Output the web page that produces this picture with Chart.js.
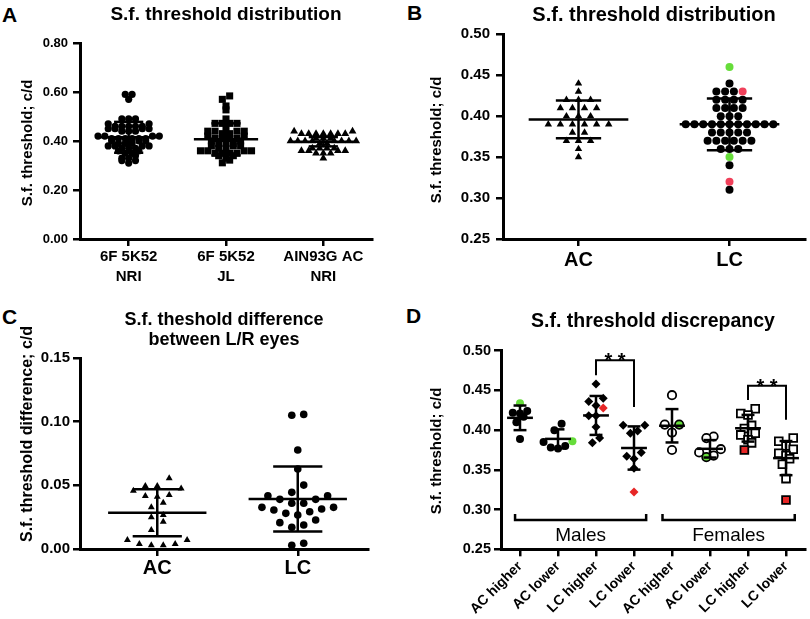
<!DOCTYPE html>
<html>
<head>
<meta charset="utf-8">
<script src="https://cdn.jsdelivr.net/npm/chart.js@4.4.0/dist/chart.umd.min.js"></script>
<style>
  body { margin: 0; background: #fff; width: 810px; height: 619px; position: relative; overflow: hidden;
         font-family: "Liberation Sans", Arial, sans-serif; }
  canvas { position: absolute; }
  .letter { position: absolute; font-weight: bold; font-size: 21px; line-height: 1; }
</style>
</head>
<body>
<div class="letter" style="left:2px;top:4px">A</div>
<div class="letter" style="left:407px;top:2px">B</div>
<div class="letter" style="left:2px;top:306px">C</div>
<div class="letter" style="left:406px;top:305px">D</div>

<canvas id="chartA" width="405" height="300" style="left:0;top:0"></canvas>
<canvas id="chartB" width="405" height="300" style="left:405px;top:0"></canvas>
<canvas id="chartC" width="405" height="305" style="left:0;top:305px"></canvas>
<canvas id="chartD" width="405" height="314" style="left:405px;top:305px"></canvas>

<script>
const FONT = '"Liberation Sans", Arial, sans-serif';
Chart.defaults.font.family = FONT;
Chart.defaults.color = "#000";
Chart.defaults.animation = false;

const GREEN = "#66DD3A";
const RED_B = "#F0405A";
const RED_D = "#E62626";

// ---- Panel A: s.f. threshold distribution by colony / diet ----
const aCategories = [["6F 5K52", "NRI"], ["6F 5K52", "JL"], ["AIN93G AC", "NRI"]];
const aNri = [0.59, 0.57, 0.59, 0.49, 0.49, 0.49,
  0.47, 0.47, 0.46, 0.46, 0.46, 0.45, 0.45, 0.44, 0.44, 0.44, 0.45, 0.45, 0.46, 0.46,
  0.42, 0.42, 0.41, 0.41, 0.41, 0.41, 0.40, 0.40, 0.40, 0.41, 0.41, 0.42, 0.42,
  0.39, 0.39, 0.38, 0.38, 0.37, 0.37, 0.37, 0.38, 0.38, 0.39,
  0.36, 0.36, 0.35, 0.35, 0.34, 0.33, 0.32, 0.31, 0.32, 0.33];
const aJl = [0.584, 0.570, 0.543, 0.527, 0.490, 0.472, 0.472, 0.472, 0.472,
  0.45, 0.44, 0.44, 0.44, 0.44, 0.43, 0.43,
  0.42, 0.42, 0.41, 0.41, 0.41, 0.41, 0.40, 0.40,
  0.39, 0.39, 0.39, 0.38, 0.38, 0.38,
  0.37, 0.37, 0.36, 0.36, 0.36, 0.36, 0.35, 0.35, 0.35, 0.35,
  0.34, 0.34, 0.33, 0.322, 0.311];
const aAc = [0.44, 0.44, 0.43, 0.43, 0.43, 0.43, 0.43, 0.43, 0.43,
  0.41, 0.41, 0.41, 0.40, 0.40, 0.40, 0.40, 0.40, 0.40, 0.40, 0.40, 0.39, 0.39,
  0.37, 0.37, 0.37, 0.37, 0.36, 0.36, 0.36, 0.36, 0.35, 0.35, 0.35, 0.33];
const aMeans = [0.415, 0.407, 0.397];
const aSds = [0.063, 0.065, 0.019];

// ---- Panel B: AC vs LC ----
const bCategories = ["AC", "LC"];
const bAc = [0.44, 0.43, 0.42, 0.42, 0.42, 0.41, 0.41, 0.41, 0.41, 0.40, 0.40, 0.40,
  0.39, 0.39, 0.39, 0.39, 0.39, 0.39, 0.38, 0.38, 0.37, 0.37, 0.37, 0.36, 0.35];
const bLc = [0.44, 0.43, 0.43, 0.43, 0.42, 0.42, 0.42, 0.42, 0.41, 0.41, 0.41, 0.41,
  0.40, 0.40, 0.40, 0.39, 0.39, 0.39, 0.39, 0.39, 0.39, 0.39, 0.39, 0.39, 0.39, 0.39,
  0.38, 0.38, 0.38, 0.38, 0.38, 0.37, 0.37, 0.37, 0.37, 0.37, 0.37,
  0.36, 0.36, 0.36, 0.34, 0.31];
const bLcGreen = [0.46, 0.35];
const bLcRed = [0.43, 0.32];
const bMeans = [0.396, 0.390];
const bSds = [0.023, 0.0315];

// ---- Panel C: L/R eye difference ----
const cCategories = ["AC", "LC"];
const cAc = [0.0555, 0.0494, 0.0494, 0.0458, 0.0476, 0.0416, 0.0424, 0.041, 0.0363, 0.0327,
  0.0267, 0.0249, 0.0214, 0.015, 0.007, 0.004, 0.003, 0.003, 0.004, 0.007];
const cLc = [0.1057, 0.105, 0.0777, 0.0628, 0.0502, 0.0418, 0.039, 0.0418, 0.0445, 0.039,
  0.0359, 0.0327, 0.0314, 0.0293, 0.0267, 0.028, 0.0306, 0.0327, 0.0359,
  0.0228, 0.0188, 0.017, 0.0207, 0.003, 0.0045];
const cMeans = [0.0285, 0.0392];
const cSds = [0.0185, 0.0255];

// ---- Panel D: discrepancy by sex ----
const dCategories = ["AC higher", "AC lower", "LC higher", "LC lower",
  "AC higher", "AC lower", "LC higher", "LC lower"];
const dMaleAcHigher = [0.424, 0.422, 0.421, 0.417, 0.410, 0.389];
const dMaleAcHigherGreen = [0.434];
const dMaleAcLower = [0.408, 0.400, 0.385, 0.380, 0.378, 0.377];
const dMaleAcLowerGreen = [0.386];
const dMaleLcHigher = [0.458, 0.440, 0.436, 0.431, 0.418, 0.418, 0.404, 0.390, 0.384];
const dMaleLcHigherRed = [0.428];
const dMaleLcLower = [0.406, 0.406, 0.399, 0.396, 0.372, 0.367, 0.364, 0.352];
const dMaleLcLowerRed = [0.322];
const dFemAcHigher = [0.444, 0.407, 0.397, 0.375];
const dFemAcHigherGreen = [0.407];
const dFemAcLower = [0.392, 0.390, 0.376, 0.372, 0.368];
const dFemAcLowerGreen = [0.366];
const dFemLcHigher = [0.427, 0.421, 0.419, 0.406, 0.402, 0.396, 0.394, 0.388, 0.384];
const dFemLcHigherRed = [0.375];
const dFemLcLower = [0.390, 0.386, 0.380, 0.376, 0.371, 0.368, 0.364, 0.357, 0.339];
const dFemLcLowerRed = [0.312];
const dMeans = [0.4155, 0.389, 0.4185, 0.3775, 0.4055, 0.3765, 0.4024, 0.3648];
const dSds = [0.0155, 0.012, 0.0245, 0.0272, 0.021, 0.011, 0.0168, 0.0215];
const dSexes = ["Males", "Females"];

// scatter-dot-plot layout: values within `tol` share a row, spread centre-out
function spread(values, tol, step) {
  const order = values.map((v, i) => i).sort((a, b) => values[a] - values[b]);
  const off = values.map(() => 0);
  let row = [];
  const flush = () => {
    const n = row.length;
    const slots = row.map((_, k) => (k - (n - 1) / 2) * step)
      .sort((p, q) => Math.abs(p) - Math.abs(q) || p - q);
    row.forEach((idx, k) => { off[idx] = slots[k]; });
    row = [];
  };
  order.forEach(i => {
    if (row.length && values[i] - values[row[0]] > tol + 1e-9) flush();
    row.push(i);
  });
  flush();
  return off;
}

function group(cat, parts, tol, step) {
  const vals = [], fills = [];
  parts.forEach(([arr, fill]) => arr.forEach(v => { vals.push(v); fills.push(fill); }));
  const off = spread(vals, tol, step);
  return { data: vals.map((v, i) => ({ x: cat + off[i], y: v })), fills };
}

function dots(g, style, radius, border, borderWidth) {
  return {
    type: "scatter",
    data: g.data,
    pointStyle: style,
    pointRadius: radius,
    pointHoverRadius: radius,
    pointBackgroundColor: g.fills,
    pointBorderColor: border || g.fills,
    pointBorderWidth: borderWidth || 0,
  };
}

function yScale(min, max, step, tickSize, pad, width) {
  return {
    type: "linear", min, max,
    ticks: { stepSize: step, padding: pad, font: { size: tickSize, weight: "bold" },
             callback: v => v.toFixed(2) },
    grid: { drawOnChartArea: false, tickLength: 7, lineWidth: 2.5, color: "#000" },
    border: { color: "#000", width: 3 },
    afterFit: s => { s.width = width; },
  };
}

function xScale(labels, min, max, tickSize, lineHeight, pad, height, rotation) {
  return {
    type: "linear", min, max,
    afterBuildTicks: s => { s.ticks = labels.map((_, i) => ({ value: i + 1 })); },
    ticks: { padding: pad, autoSkip: false, maxRotation: rotation, minRotation: rotation,
             font: { size: tickSize, weight: "bold", lineHeight },
             callback: v => labels[Math.round(v) - 1] },
    grid: { drawOnChartArea: false, tickLength: 7, lineWidth: 2.5, color: "#000" },
    border: { color: "#000", width: 3 },
    afterFit: s => { s.height = height; },
  };
}

function titleOpts(text, size, lineHeight, top, bottom) {
  return { display: true, text, fullSize: false, color: "#000",
           font: { size, weight: "bold", lineHeight }, padding: { top, bottom } };
}

// mean +/- SD bars
function errorBars(means, sds, meanHalf, capHalf, width) {
  return {
    id: "errorBars",
    afterDatasetsDraw(chart) {
      const { ctx, scales: { x, y } } = chart;
      const seg = (x0, y0, x1, y1) => {
        ctx.beginPath();
        ctx.moveTo(x.getPixelForValue(x0), y.getPixelForValue(y0));
        ctx.lineTo(x.getPixelForValue(x1), y.getPixelForValue(y1));
        ctx.stroke();
      };
      ctx.save();
      ctx.strokeStyle = "#000";
      ctx.lineWidth = width;
      means.forEach((m, i) => {
        const c = i + 1, sd = sds[i];
        seg(c - meanHalf, m, c + meanHalf, m);
        seg(c - capHalf, m + sd, c + capHalf, m + sd);
        seg(c - capHalf, m - sd, c + capHalf, m - sd);
        seg(c, m - sd, c, m + sd);
      });
      ctx.restore();
    },
  };
}

function sideTitle(text, size, x, y) {
  return {
    id: "sideTitle",
    afterDraw(chart) {
      const ctx = chart.ctx;
      ctx.save();
      ctx.translate(x, y);
      ctx.rotate(-Math.PI / 2);
      ctx.font = `bold ${size}px ${FONT}`;
      ctx.fillStyle = "#000";
      ctx.textAlign = "center";
      ctx.textBaseline = "middle";
      ctx.fillText(text, 0, 0);
      ctx.restore();
    },
  };
}

function baseOptions(title, padRight, xs, ys) {
  return {
    responsive: false,
    layout: { padding: { left: 0, right: padRight, top: 0, bottom: 0 }, autoPadding: false },
    plugins: { legend: { display: false }, tooltip: { enabled: false }, title },
    scales: { x: xs, y: ys },
  };
}

// --- A ---
new Chart(document.getElementById("chartA"), {
  type: "scatter",
  data: { datasets: [
    dots(group(1, [[aNri, "#000"]], 0.015, 0.07), "circle", 3.6),
    dots(group(2, [[aJl, "#000"]], 0.015, 0.075), "rect", 5),
    dots(group(3, [[aAc, "#000"]], 0.015, 0.075), "triangle", 4.5),
  ] },
  options: baseOptions(
    titleOpts("S.f. threshold distribution", 19, 1.2, 3.6, 16.6), 33,
    xScale(aCategories, 0.5, 3.5, 15, 1.33, 1, 61, 0),
    yScale(0, 0.8, 0.2, 13, 5, 80)),
  plugins: [errorBars(aMeans, aSds, 0.33, 0.15, 2.5), sideTitle("S.f. threshold; c/d", 15, 28, 143)],
});

// --- B ---
new Chart(document.getElementById("chartB"), {
  type: "scatter",
  data: { datasets: [
    dots(group(1, [[bAc, "#000"]], 0.005, 0.08), "triangle", 4.3),
    dots(group(2, [[bLc, "#000"], [bLcGreen, GREEN], [bLcRed, RED_B]], 0.005, 0.058), "circle", 4),
  ] },
  options: baseOptions(
    titleOpts("S.f. threshold distribution", 20, 1.2, 3, 7.3), 5,
    xScale(bCategories, 0.5, 2.5, 20, 1.2, 2, 61, 0),
    yScale(0.25, 0.5, 0.05, 15, 6, 98)),
  plugins: [errorBars(bMeans, bSds, 0.33, 0.15, 2.5), sideTitle("S.f. threshold; c/d", 15, 32, 140)],
});

// --- C ---
new Chart(document.getElementById("chartC"), {
  type: "scatter",
  data: { datasets: [
    dots(group(1, [[cAc, "#000"]], 0.007, 0.085), "triangle", 4),
    dots(group(2, [[cLc, "#000"]], 0.007, 0.085), "circle", 3.8),
  ] },
  options: baseOptions(
    titleOpts(["S.f. theshold difference", "between L/R eyes"], 18, 20 / 18, 5, 8), 37,
    xScale(cCategories, 0.45, 2.5, 20, 1.2, 0, 61, 0),
    yScale(0, 0.15, 0.05, 15, 3, 80)),
  plugins: [errorBars(cMeans, cSds, 0.35, 0.175, 2.5),
            sideTitle("S.f. threshold difference; c/d", 16, 28, 129)],
});

// --- D ---
const D_TOL = 0.01, D_STEP = 0.19;
const sexBrackets = {
  id: "sexBrackets",
  afterDatasetsDraw(chart) {
    const { ctx, scales: { x, y } } = chart;
    const spans = [[0.87, 4.32], [4.75, 8.23]];
    ctx.save();
    ctx.strokeStyle = "#000";
    ctx.fillStyle = "#000";
    ctx.lineWidth = 2.5;
    spans.forEach(([a, b], i) => {
      const x0 = x.getPixelForValue(a), x1 = x.getPixelForValue(b);
      const yb = y.getPixelForValue(0.287), yt = y.getPixelForValue(0.2945);
      ctx.beginPath();
      ctx.moveTo(x0, yt); ctx.lineTo(x0, yb); ctx.lineTo(x1, yb); ctx.lineTo(x1, yt);
      ctx.stroke();
      ctx.font = `19px ${FONT}`;
      ctx.textAlign = "center";
      ctx.textBaseline = "middle";
      ctx.fillText(dSexes[i], (x0 + x1) / 2, y.getPixelForValue(0.267));
    });
    // ** significance brackets
    const sig = [{ a: 3, b: 4, top: 0.488, l: 0.469, r: 0.429 },
                 { a: 7, b: 8, top: 0.456, l: 0.438, r: 0.413 }];
    ctx.lineWidth = 2;
    sig.forEach(s => {
      const xa = x.getPixelForValue(s.a), xb = x.getPixelForValue(s.b);
      const yt = y.getPixelForValue(s.top);
      ctx.beginPath();
      ctx.moveTo(xa, y.getPixelForValue(s.l)); ctx.lineTo(xa, yt);
      ctx.lineTo(xb, yt); ctx.lineTo(xb, y.getPixelForValue(s.r));
      ctx.stroke();
      ctx.font = `bold 20px ${FONT}`;
      ctx.textAlign = "center";
      ctx.textBaseline = "alphabetic";
      ctx.fillText("* *", (xa + xb) / 2, yt + 7);
    });
    ctx.restore();
  },
};

new Chart(document.getElementById("chartD"), {
  type: "scatter",
  data: { datasets: [
    dots(group(1, [[dMaleAcHigher, "#000"], [dMaleAcHigherGreen, GREEN]], D_TOL, D_STEP), "circle", 4),
    dots(group(2, [[dMaleAcLower, "#000"], [dMaleAcLowerGreen, GREEN]], D_TOL, D_STEP), "circle", 4),
    dots(group(3, [[dMaleLcHigher, "#000"], [dMaleLcHigherRed, RED_D]], D_TOL, D_STEP), "rectRot", 4.5),
    dots(group(4, [[dMaleLcLower, "#000"], [dMaleLcLowerRed, RED_D]], D_TOL, D_STEP), "rectRot", 4.5),
    dots(group(5, [[dFemAcHigher, "#fff"], [dFemAcHigherGreen, GREEN]], D_TOL, D_STEP), "circle", 4.2, "#000", 1.8),
    dots(group(6, [[dFemAcLower, "#fff"], [dFemAcLowerGreen, GREEN]], D_TOL, D_STEP), "circle", 4.2, "#000", 1.8),
    dots(group(7, [[dFemLcHigher, "#fff"], [dFemLcHigherRed, RED_D]], D_TOL, D_STEP), "rect", 5.5, "#000", 1.8),
    dots(group(8, [[dFemLcLower, "#fff"], [dFemLcLowerRed, RED_D]], D_TOL, D_STEP), "rect", 5.5, "#000", 1.8),
  ] },
  options: baseOptions(
    titleOpts("S.f. threshold discrepancy", 19.5, 1.2, 4.8, 17.5), 5,
    xScale(dCategories, 0.5, 8.5, 14, 1.2, 2, 69.7, 45),
    yScale(0.25, 0.5, 0.05, 14.5, 3, 96)),
  plugins: [errorBars(dMeans, dSds, 0.34, 0.17, 2.5), sexBrackets,
            sideTitle("S.f. threshold; c/d", 15, 32, 146)],
});
</script>
</body>
</html>
